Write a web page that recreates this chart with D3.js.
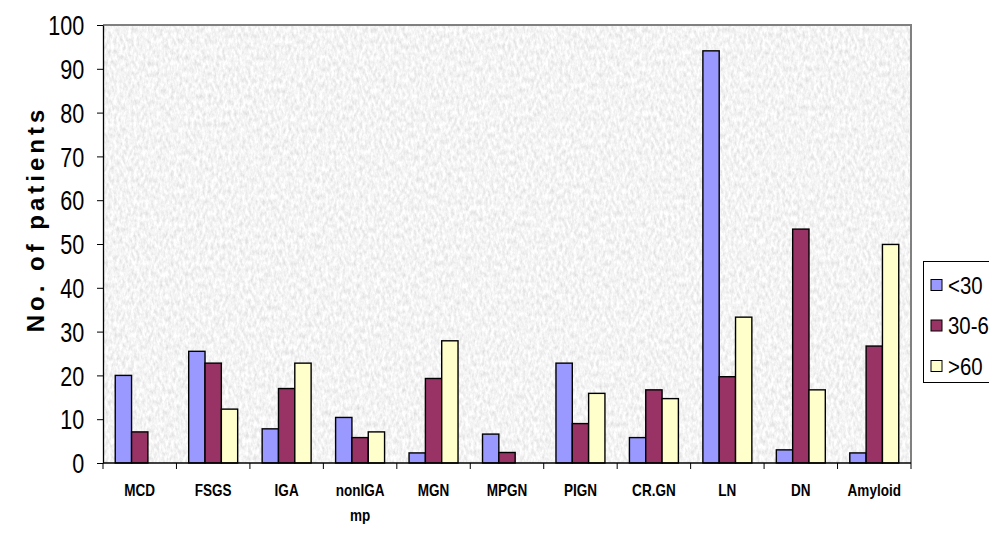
<!DOCTYPE html>
<html>
<head>
<meta charset="utf-8">
<script src="https://cdn.jsdelivr.net/npm/d3@7"></script>
<style>
  html, body { margin: 0; padding: 0; background: #ffffff; }
  svg { display: block; font-family: "Liberation Sans", Arial, sans-serif; }
</style>
</head>
<body>
<svg id="chart" width="989" height="548"></svg>
<script>
// Biopsy diagnoses by age group
const categories = ["MCD", "FSGS", "IGA", "nonIGA mp", "MGN", "MPGN", "PIGN", "CR.GN", "LN", "DN", "Amyloid"];
const seriesNames = ["<30", "30-60", ">60"];
const under30   = [20.0, 25.5, 7.8, 10.4, 2.3, 6.6, 22.8, 5.8, 94.1, 3.0, 2.3];
const from30to60 = [7.1, 22.8, 17.0, 5.8, 19.3, 2.4, 9.0, 16.7, 19.7, 53.4, 26.7];
const over60    = [0, 12.3, 22.8, 7.1, 27.9, 0, 15.9, 14.7, 33.3, 16.7, 49.9];
const yTicks = [0, 10, 20, 30, 40, 50, 60, 70, 80, 90, 100];
const yTitle = "No. of patients";

const seriesValues = [under30, from30to60, over60];
const colors = ["#9999ff", "#993366", "#ffffcc"];

const svg = d3.select("#chart");
const plot = { left: 103, right: 911, top: 25, bottom: 463 };

const x0 = d3.scaleBand().domain(categories).range([plot.left, plot.right]).paddingInner(0).paddingOuter(0);
const x1 = d3.scaleBand().domain(seriesNames).range([0, x0.bandwidth()]).paddingInner(0).paddingOuter(0.75);
const y = d3.scaleLinear().domain([0, 100]).range([plot.bottom, plot.top]);

// granite-like plot background
const defs = svg.append("defs");
const f = defs.append("filter").attr("id", "granite")
  .attr("filterUnits", "userSpaceOnUse")
  .attr("x", plot.left).attr("y", plot.top)
  .attr("width", plot.right - plot.left).attr("height", plot.bottom - plot.top);
f.append("feTurbulence").attr("type", "fractalNoise")
  .attr("baseFrequency", "0.35 0.18").attr("numOctaves", 3).attr("seed", 7).attr("result", "n");
f.append("feColorMatrix").attr("in", "n").attr("type", "matrix")
  .attr("values", "0.45 0 0 0 0.68  0.45 0 0 0 0.68  0.45 0 0 0 0.68  0 0 0 0 1");

svg.append("rect")
  .attr("x", plot.left).attr("y", plot.top)
  .attr("width", plot.right - plot.left).attr("height", plot.bottom - plot.top)
  .attr("fill", "#e8e8e8")
  .attr("filter", "url(#granite)");

// plot frame (top and right)
svg.append("path")
  .attr("d", `M${plot.left},${plot.top}H${plot.right}V${plot.bottom}`)
  .attr("fill", "none").attr("stroke", "#808080").attr("stroke-width", 2);

// bars
const groups = svg.append("g").selectAll("g")
  .data(seriesNames)
  .join("g")
  .attr("fill", (d, i) => colors[i]);

groups.selectAll("rect")
  .data((s, si) => categories.map((c, ci) => ({ c, s, v: seriesValues[si][ci] })).filter(d => d.v > 0))
  .join("rect")
  .attr("x", d => x0(d.c) + x1(d.s))
  .attr("y", d => y(d.v))
  .attr("width", x1.bandwidth())
  .attr("height", d => y(0) - y(d.v))
  .attr("stroke", "#000")
  .attr("stroke-width", 1.4);

// y axis
const yAxis = svg.append("g")
  .attr("transform", `translate(${plot.left},0)`)
  .call(d3.axisLeft(y).tickValues(yTicks).tickSize(6).tickSizeOuter(0));
yAxis.select(".domain").attr("stroke", "#000").attr("stroke-width", 1.3);
yAxis.selectAll(".tick line").attr("stroke", "#000");
yAxis.selectAll(".tick text")
  .attr("font-family", "Liberation Sans, Arial, sans-serif")
  .attr("font-size", 27)
  .attr("fill", "#000")
  .attr("x", -23.5)
  .attr("dy", "0.36em")
  .attr("transform", "scale(0.8,1)");

// x axis
const xAxis = svg.append("g").attr("transform", `translate(0,${plot.bottom})`);
xAxis.append("line")
  .attr("x1", plot.left).attr("x2", plot.right)
  .attr("stroke", "#000").attr("stroke-width", 1.3);
const bounds = categories.map(c => x0(c)).concat([plot.right]);
xAxis.selectAll("line.tick")
  .data(bounds)
  .join("line").attr("class", "tick")
  .attr("x1", d => d).attr("x2", d => d)
  .attr("y1", 0).attr("y2", 6)
  .attr("stroke", "#000");

const xl = xAxis.selectAll("text.cat")
  .data(categories)
  .join("text").attr("class", "cat")
  .attr("transform", d => `translate(${x0(d) + x0.bandwidth() / 2},33) scale(0.82,1)`)
  .attr("text-anchor", "middle")
  .attr("font-size", 16.5)
  .attr("font-weight", "bold")
  .attr("fill", "#000");
xl.each(function (d) {
  const words = d.split(" ");
  const t = d3.select(this);
  words.forEach((w, i) => t.append("tspan").attr("x", 0).attr("dy", i === 0 ? 0 : 25).text(w));
});

// y axis title
svg.append("text")
  .attr("transform", "translate(44,219) rotate(-90)")
  .attr("text-anchor", "middle")
  .attr("font-size", 24)
  .attr("font-weight", "bold")
  .attr("letter-spacing", 4)
  .attr("fill", "#000")
  .text(yTitle);

// legend (its right part runs past the page edge)
const legend = svg.append("g");
legend.append("rect")
  .attr("x", 923.5).attr("y", 261.5)
  .attr("width", 90).attr("height", 121)
  .attr("fill", "#fff").attr("stroke", "#000").attr("stroke-width", 1);
const items = legend.selectAll("g.item")
  .data(seriesNames)
  .join("g").attr("class", "item")
  .attr("transform", (d, i) => `translate(931,${285 + i * 40.5})`);
items.append("rect")
  .attr("x", 0).attr("y", -5.5)
  .attr("width", 11).attr("height", 11)
  .attr("fill", (d, i) => colors[i])
  .attr("stroke", "#000").attr("stroke-width", 1);
items.append("text")
  .attr("transform", "translate(17,0) scale(0.85,1)")
  .attr("dy", "0.36em")
  .attr("font-size", 24)
  .attr("fill", "#000")
  .text(d => d);
</script>
</body>
</html>
